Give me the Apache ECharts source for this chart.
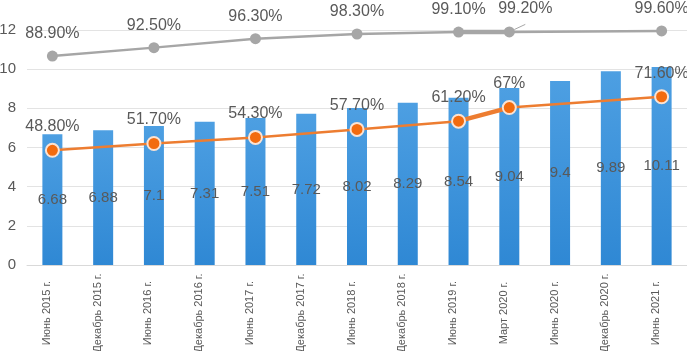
<!DOCTYPE html>
<html>
<head>
<meta charset="utf-8">
<script src="https://cdn.jsdelivr.net/npm/echarts@6/dist/echarts.min.js"></script>
<style>
  html, body { margin: 0; padding: 0; background: #fff; }
  #chart { width: 687px; height: 351px; }
</style>
</head>
<body>
<div id="chart"></div>
<script>
const categories = [
  'Июнь 2015 г.', 'Декабрь 2015 г.', 'Июнь 2016 г.', 'Декабрь 2016 г.',
  'Июнь 2017 г.', 'Декабрь 2017 г.', 'Июнь 2018 г.', 'Декабрь 2018 г.',
  'Июнь 2019 г.', 'Март 2020 г.', 'Июнь 2020 г.', 'Декабрь 2020 г.', 'Июнь 2021 г.'
];
const barValues = [6.68, 6.88, 7.1, 7.31, 7.51, 7.72, 8.02, 8.29, 8.54, 9.04, 9.4, 9.89, 10.11];
const grayShare = [88.9, null, 92.5, null, 96.3, null, 98.3, null, 99.1, 99.2, null, null, 99.6];
const orangeShare = [48.8, null, 51.7, null, 54.3, null, 57.7, null, 61.2, 67, null, null, 71.6];
const leftTicks = [0, 2, 4, 6, 8, 10, 12];

// segment drawn heavier in the original (Июнь 2019 -> Март 2020)
const boldFrom = 8, boldTo = 9;
const pick = (arr) => arr.map((v, i) => (i >= boldFrom && i <= boldTo ? v : null));

// the 99.20% label is pushed aside with a small leader line
const calloutIndex = 9;
const grayData = grayShare.map((v, i) =>
  i === calloutIndex
    ? { value: v, label: { offset: [16, -1] }, labelLine: { show: true } }
    : v
);

const textColor = '#595959';
const fmtPct = (v) => {
  const n = v.value;
  return (Number.isInteger(n) ? n : n.toFixed(2)) + '%';
};

const chart = echarts.init(document.getElementById('chart'), null, { renderer: 'canvas' });

const option = {
  animation: false,
  textStyle: { fontFamily: 'Liberation Sans, Arial, sans-serif' },
  grid: { left: 27, right: 0, top: 30, bottom: 86, containLabel: false, outerBoundsMode: 'none' },
  xAxis: {
    type: 'category',
    data: categories,
    axisLine: { lineStyle: { color: '#d9d9d9' } },
    axisTick: { show: false },
    axisLabel: {
      rotate: 90,
      interval: 0,
      color: textColor,
      fontSize: 11,
      margin: 48,
      align: 'center',
      verticalAlign: 'bottom'
    }
  },
  yAxis: [
    {
      type: 'value',
      min: leftTicks[0],
      max: leftTicks[leftTicks.length - 1],
      interval: 2,
      axisLine: { show: false },
      axisTick: { show: false },
      axisLabel: { color: textColor, fontSize: 15, margin: 11 },
      splitLine: { lineStyle: { color: '#e3e3e3', width: 1 } }
    },
    {
      type: 'value',
      min: 0,
      max: 100,
      show: false,
      splitLine: { show: false }
    }
  ],
  series: [
    {
      type: 'bar',
      data: barValues,
      barWidth: 20,
      itemStyle: {
        color: new echarts.graphic.LinearGradient(0, 0, 0, 1, [
          { offset: 0, color: '#4d9fe2' },
          { offset: 1, color: '#2f88d4' }
        ])
      },
      label: {
        show: true,
        position: 'inside',
        color: textColor,
        fontSize: 15
      },
      z: 2
    },
    {
      type: 'line',
      yAxisIndex: 1,
      data: pick(grayShare),
      connectNulls: false,
      symbol: 'none',
      lineStyle: { color: '#a6a6a6', width: 4.5 },
      z: 3
    },
    {
      type: 'line',
      yAxisIndex: 1,
      data: grayData,
      connectNulls: true,
      symbol: 'circle',
      symbolSize: 11,
      lineStyle: { color: '#a6a6a6', width: 2.5 },
      itemStyle: { color: '#a6a6a6' },
      label: {
        show: true,
        position: 'top',
        distance: 9,
        color: textColor,
        fontSize: 16,
        formatter: fmtPct
      },
      labelLine: { show: false, lineStyle: { color: '#a6a6a6', width: 1 } },
      z: 4
    },
    {
      type: 'line',
      yAxisIndex: 1,
      data: pick(orangeShare),
      connectNulls: false,
      symbol: 'none',
      lineStyle: { color: '#ed7d31', width: 4.5 },
      z: 3
    },
    {
      type: 'line',
      yAxisIndex: 1,
      data: orangeShare,
      connectNulls: true,
      symbol: 'circle',
      symbolSize: 13,
      lineStyle: { color: '#ed7d31', width: 2.5 },
      itemStyle: { color: '#f26b0f', borderColor: '#fbe3d3', borderWidth: 2 },
      label: {
        show: true,
        position: 'top',
        distance: 8,
        color: textColor,
        fontSize: 16,
        formatter: fmtPct
      },
      z: 4
    }
  ]
};

chart.setOption(option);
</script>
</body>
</html>
